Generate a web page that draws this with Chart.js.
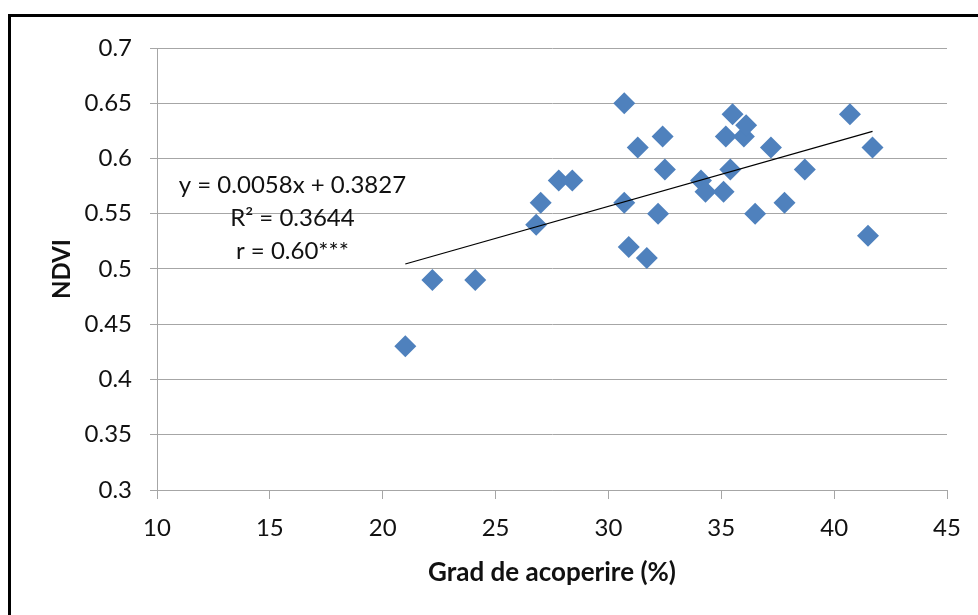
<!DOCTYPE html>
<html>
<head>
<meta charset="utf-8">
<script src="https://cdn.jsdelivr.net/npm/chart.js@4.4.1/dist/chart.umd.min.js"></script>
<style>
  html, body { margin: 0; padding: 0; background: #fff; }
  canvas { display: block; }
</style>
</head>
<body>
<canvas id="graph" width="978" height="615"></canvas>
<script>
// grad de acoperire (%) vs NDVI
const gradAcoperire = [21.0, 22.2, 24.1, 26.8, 27.0, 27.8, 28.4, 30.7, 30.7, 30.9, 31.3, 31.7, 32.2, 32.4, 32.5,
                       34.1, 34.3, 35.1, 35.4, 35.2, 35.5, 36.0, 36.1, 37.2, 36.5, 37.8, 38.7, 40.7, 41.7, 41.5];
const ndvi = [0.43, 0.49, 0.49, 0.54, 0.56, 0.58, 0.58, 0.65, 0.56, 0.52, 0.61, 0.51, 0.55, 0.62, 0.59,
              0.58, 0.57, 0.57, 0.59, 0.62, 0.64, 0.62, 0.63, 0.61, 0.55, 0.56, 0.59, 0.64, 0.61, 0.53];

const panta = 0.0058;
const intercept = 0.3827;
const eticheteEcuatie = ['y = 0.0058x + 0.3827', 'R\u00B2 = 0.3644', 'r = 0.60***'];

const xTicks = { min: 10, max: 45, step: 5 };
const yTicks = { min: 0.3, max: 0.7, step: 0.05 };

const FONT = 'Lato';
const GRI = '#a6a6a6';
const TEXT = '#111';

const puncte = gradAcoperire.map((x, i) => ({ x: x, y: ndvi[i] }));
const xMin = Math.min(...gradAcoperire);
const xMax = Math.max(...gradAcoperire);
const trend = [
    { x: xMin, y: panta * xMin + intercept },
    { x: xMax, y: panta * xMax + intercept }
];

// rama neagra din stanga/sus
const ramaPlugin = {
    id: 'rama',
    beforeDraw(chart) {
        const ctx = chart.ctx;
        ctx.save();
        ctx.strokeStyle = '#000';
        ctx.lineWidth = 3;
        ctx.beginPath();
        ctx.moveTo(9.5, 700);
        ctx.lineTo(9.5, 15.5);
        ctx.lineTo(1100, 15.5);
        ctx.stroke();
        ctx.restore();
    }
};

// ecuatia liniei de tendinta
const ecuatiePlugin = {
    id: 'ecuatie',
    afterDatasetsDraw(chart) {
        const ctx = chart.ctx;
        const px = chart.scales.x.getPixelForValue(16);
        const py = chart.scales.y.getPixelForValue(0.5755);
        ctx.save();
        ctx.font = '24px ' + FONT;
        ctx.fillStyle = TEXT;
        ctx.textAlign = 'center';
        ctx.textBaseline = 'middle';
        eticheteEcuatie.forEach((t, i) => ctx.fillText(t, px, py + i * 33));
        ctx.restore();
    }
};

new Chart(document.getElementById('graph'), {
    type: 'scatter',
    data: {
        datasets: [
            {
                label: 'Linear',
                data: trend,
                type: 'line',
                borderColor: '#000',
                borderWidth: 1.2,
                pointRadius: 0,
                fill: false,
                order: 0
            },
            {
                label: 'NDVI',
                data: puncte,
                pointStyle: 'rectRot',
                pointRadius: 11,
                backgroundColor: '#4F81BD',
                borderColor: '#4F81BD',
                borderWidth: 0,
                order: 1
            }
        ]
    },
    options: {
        responsive: false,
        animation: false,
        devicePixelRatio: 1,
        layout: { padding: { top: 48, right: 31, bottom: 0, left: 0 } },
        plugins: {
            legend: { display: false },
            tooltip: { enabled: false }
        },
        scales: {
            x: {
                type: 'linear',
                min: xTicks.min,
                max: xTicks.max,
                afterFit: s => { s.height = 125; },
                ticks: {
                    stepSize: xTicks.step,
                    padding: 15,
                    color: TEXT,
                    font: { family: FONT, size: 24 }
                },
                grid: { drawOnChartArea: false, drawTicks: true, tickLength: 9, color: GRI },
                border: { display: true, color: GRI, width: 1 },
                title: {
                    display: true,
                    text: 'Grad de acoperire (%)',
                    color: TEXT,
                    font: { family: FONT, size: 26, weight: 'bold' },
                    padding: { top: 0, bottom: 27 }
                }
            },
            y: {
                type: 'linear',
                min: yTicks.min,
                max: yTicks.max,
                afterFit: s => { s.width = 157; },
                ticks: {
                    stepSize: yTicks.step,
                    padding: 18,
                    color: TEXT,
                    font: { family: FONT, size: 24 },
                    callback: v => String(+v.toFixed(2))
                },
                grid: { color: GRI, drawTicks: true, tickLength: 7 },
                border: { display: true, color: GRI, width: 1 },
                title: {
                    display: true,
                    text: 'NDVI',
                    color: TEXT,
                    font: { family: FONT, size: 24, weight: 'bold' },
                    padding: { top: 48, bottom: 0 }
                }
            }
        }
    },
    plugins: [ramaPlugin, ecuatiePlugin]
});
</script>
</body>
</html>
